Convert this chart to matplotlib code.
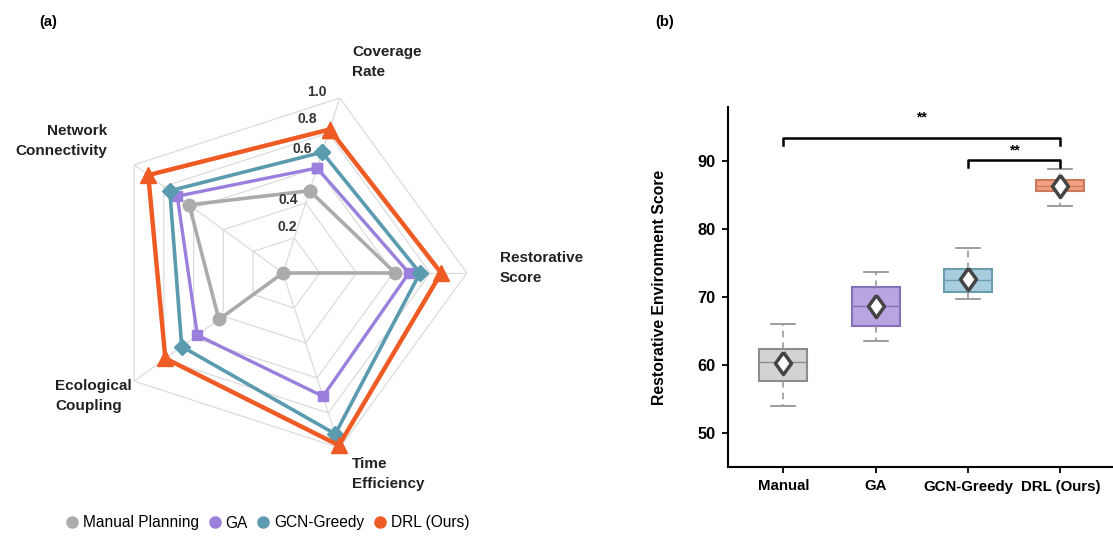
import numpy as np
import matplotlib
matplotlib.use("Agg")
from matplotlib import pyplot as plt

plt.rcParams['font.family'] = ['Liberation Sans', 'DejaVu Sans']

# radar data (clockwise from top)
axes_names = ['Coverage\nRate', 'Restorative\nScore', 'Time\nEfficiency', 'Ecological\nCoupling', 'Network\nConnectivity']
methods = ['Manual Planning', 'GA', 'GCN-Greedy', 'DRL (Ours)']
manual = [0.47, 0.61, 0.0, 0.43, 0.63]
ga = [0.60, 0.685, 0.705, 0.575, 0.71]
gcn = [0.69, 0.745, 0.92, 0.68, 0.76]
drl = [0.82, 0.86, 0.985, 0.79, 0.905]
rticks = [0.2, 0.4, 0.6, 0.8, 1.0]

# box plot data
groups = ['Manual', 'GA', 'GCN-Greedy', 'DRL (Ours)']
wlo = [54.0, 63.5, 69.8, 83.4]
q1 = [57.6, 65.8, 70.8, 85.7]
med = [60.4, 68.65, 72.6, 86.4]
q3 = [62.4, 71.5, 74.1, 87.3]
whi = [66.1, 73.7, 77.3, 88.8]
means = [60.3, 68.7, 72.7, 86.4]

colors = ['#ababab', '#9a7fdc', '#5a9bb0', '#ef5b25']
markers = ['o', 's', 'D', '^']
msizes = [9, 7, 8, 11]
lws = [2.6, 2.4, 2.6, 3.2]

box_face = ['#d3d3d3', '#b9a5e2', '#a8cddd', '#f3a181']
box_edge = ['#8c8c8c', '#8472b8', '#6b9db0', '#c97a5c']

fig = plt.figure(figsize=(11.13, 5.38), dpi=100)

# ---------- (a) radar ----------
ax = fig.add_axes([0.0889, 0.1506, 0.3306, 0.684], projection='polar')
ax.set_theta_offset(np.radians(72))
ax.set_theta_direction(-1)
n = len(axes_names)
theta = np.linspace(0, 2 * np.pi, n, endpoint=False)
tclosed = np.append(theta, theta[0])

for lev in rticks:
    ax.plot(tclosed, [lev] * (n + 1), color='#dcdcdc', lw=0.9, zorder=1)
for t in theta:
    ax.plot([t, t], [0, 1.0], color='#dcdcdc', lw=0.9, zorder=1)

for vals, c, m, ms, lw, lab in zip([manual, ga, gcn, drl], colors, markers, msizes, lws, methods):
    v = np.append(vals, vals[0])
    ax.plot(tclosed, v, color=c, lw=lw, marker=m, markersize=ms, clip_on=False, zorder=3)

ax.set_ylim(0, 1.0)
ax.set_xticks([])
ax.set_yticks([])
ax.grid(False)
ax.spines['polar'].set_visible(False)

# radial tick labels (screen angle in deg, radius)
lab_pos = [(85, 0.25), (86, 0.40), (81, 0.68), (81, 0.85), (79.5, 1.0)]
for val, (ang, r) in zip(rticks, lab_pos):
    ax.text(np.radians(72 - ang), r, f'{val:.1f}', ha='center', va='center',
            fontsize=10, fontweight='bold', color='#333333', zorder=5)

W, H = 1113, 538
lab_xy = [(352, 62, 'left'), (500, 268, 'left'), (352, 474, 'left'), (55, 396, 'left'), (107, 141, 'right')]
for name, (x, y, ha) in zip(axes_names, lab_xy):
    fig.text(x / W, 1 - y / H, name, ha=ha, va='center', fontsize=11,
             fontweight='bold', color='#222222', linespacing=1.5, multialignment=ha)

fig.text(48 / W, 1 - 22 / H, '(a)', ha='center', va='center', fontsize=10.5, fontweight='bold')
fig.text(665 / W, 1 - 22 / H, '(b)', ha='center', va='center', fontsize=10.5, fontweight='bold')

handles = [plt.Line2D([], [], ls='', marker='o', color=c, markersize=8) for c in colors]
fig.legend(handles, methods, loc='center left', bbox_to_anchor=(66 / W, 1 - 523 / H),
           ncol=4, frameon=False, fontsize=11.2, handlelength=0.8, handletextpad=0.3,
           columnspacing=0.6, borderaxespad=0, borderpad=0)

# ---------- (b) box plot ----------
bx = fig.add_axes([728 / W, 71 / H, 0.345, 360 / H])
stats = []
for i, g in enumerate(groups):
    stats.append(dict(label=g, whislo=wlo[i], q1=q1[i], med=med[i], q3=q3[i],
                      whishi=whi[i], mean=means[i], fliers=[]))
pos = np.arange(len(groups))
diamond = [(0, 1), (0.72, 0), (0, -1), (-0.72, 0), (0, 1)]
bp = bx.bxp(stats, positions=pos, widths=0.52, patch_artist=True, showmeans=True,
            meanprops=dict(marker=diamond, markerfacecolor='white', markeredgecolor='#444444',
                           markeredgewidth=2.5, markersize=16),
            whiskerprops=dict(color='#9a9a9a', lw=1.2, ls=(0, (4, 3))),
            capprops=dict(color='#8c8c8c', lw=1.2),
            medianprops=dict(lw=1.0))
for i, b in enumerate(bp['boxes']):
    b.set_facecolor(box_face[i])
    b.set_edgecolor(box_edge[i])
    b.set_linewidth(1.5)
    bp['medians'][i].set_color(box_edge[i])

bx.set_xlim(-0.6, 3.56)
bx.set_ylim(45, 98)
bx.set_yticks([50, 60, 70, 80, 90])
bx.set_xticks(pos)
bx.set_xticklabels(groups)
for s in ['top', 'right']:
    bx.spines[s].set_visible(False)
for s in ['left', 'bottom']:
    bx.spines[s].set_linewidth(1.5)
bx.tick_params(axis='y', labelsize=11.8, width=1.3, length=4, pad=5)
bx.tick_params(axis='x', labelsize=10.8, width=1.3, length=4, pad=5)
for t in bx.get_xticklabels() + bx.get_yticklabels():
    t.set_fontweight('bold')
bx.set_ylabel('Restorative Environment Score', fontsize=11.3, fontweight='bold', labelpad=22)

# significance brackets
def bracket(x1, x2, y, h, txt, ty):
    bx.plot([x1, x1, x2, x2], [y - h, y, y, y - h], color='black', lw=1.8)
    bx.text((x1 + x2) / 2, ty, txt, ha='center', va='center', fontsize=10, fontweight='bold')

bracket(0, 3, 93.5, 1.1, '**', 96.5)
bracket(2, 3, 90.2, 1.1, '**', 91.6)

fig.savefig('out.png', dpi=100)
